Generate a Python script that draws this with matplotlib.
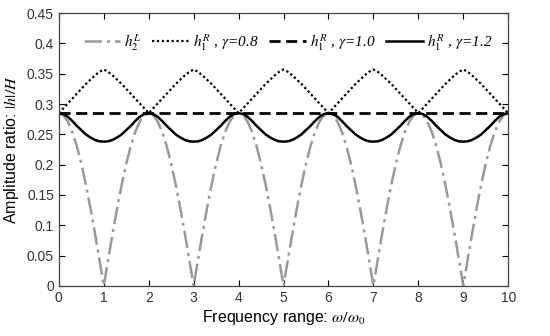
import numpy as np
import matplotlib
matplotlib.use("Agg")
import matplotlib.pyplot as plt

plt.rcParams['font.family'] = ['Liberation Sans', 'DejaVu Sans']
plt.rcParams['mathtext.fontset'] = 'stix'

# frequency samples (omega/omega_0), step 0.1 from 0 to 10
freq = [round(0.1 * i, 1) for i in range(101)]

# h2^L (grey dash-dot)
h2L = [0.285,
       0.2815, 0.2711, 0.2539, 0.2306, 0.2015, 0.1675, 0.1294, 0.0881, 0.0446, 0.0,
       0.0446, 0.0881, 0.1294, 0.1675, 0.2015, 0.2306, 0.2539, 0.2711, 0.2815, 0.285,
       0.2815, 0.2711, 0.2539, 0.2306, 0.2015, 0.1675, 0.1294, 0.0881, 0.0446, 0.0,
       0.0446, 0.0881, 0.1294, 0.1675, 0.2015, 0.2306, 0.2539, 0.2711, 0.2815, 0.285,
       0.2815, 0.2711, 0.2539, 0.2306, 0.2015, 0.1675, 0.1294, 0.0881, 0.0446, 0.0,
       0.0446, 0.0881, 0.1294, 0.1675, 0.2015, 0.2306, 0.2539, 0.2711, 0.2815, 0.285,
       0.2815, 0.2711, 0.2539, 0.2306, 0.2015, 0.1675, 0.1294, 0.0881, 0.0446, 0.0,
       0.0446, 0.0881, 0.1294, 0.1675, 0.2015, 0.2306, 0.2539, 0.2711, 0.2815, 0.285,
       0.2815, 0.2711, 0.2539, 0.2306, 0.2015, 0.1675, 0.1294, 0.0881, 0.0446, 0.0,
       0.0446, 0.0881, 0.1294, 0.1675, 0.2015, 0.2306, 0.2539, 0.2711, 0.2815, 0.285]

# h1^R, gamma = 0.8 (dotted)
h1R_08 = [0.285,
          0.293, 0.301, 0.309, 0.317, 0.325, 0.333, 0.340, 0.347, 0.353, 0.357,
          0.353, 0.347, 0.340, 0.333, 0.325, 0.317, 0.309, 0.301, 0.293, 0.285,
          0.293, 0.301, 0.309, 0.317, 0.325, 0.333, 0.340, 0.347, 0.353, 0.357,
          0.353, 0.347, 0.340, 0.333, 0.325, 0.317, 0.309, 0.301, 0.293, 0.285,
          0.293, 0.301, 0.309, 0.317, 0.325, 0.333, 0.340, 0.347, 0.353, 0.357,
          0.353, 0.347, 0.340, 0.333, 0.325, 0.317, 0.309, 0.301, 0.293, 0.285,
          0.293, 0.301, 0.309, 0.317, 0.325, 0.333, 0.340, 0.347, 0.353, 0.357,
          0.353, 0.347, 0.340, 0.333, 0.325, 0.317, 0.309, 0.301, 0.293, 0.285,
          0.293, 0.301, 0.309, 0.317, 0.325, 0.333, 0.340, 0.347, 0.353, 0.357,
          0.353, 0.347, 0.340, 0.333, 0.325, 0.317, 0.309, 0.301, 0.293, 0.285]

# h1^R, gamma = 1.0 (dashed, constant)
freq_10 = [0.0, 10.0]
h1R_10 = [0.285, 0.285]

# h1^R, gamma = 1.2 (solid)
h1R_12 = [0.285,
          0.2835, 0.279, 0.272, 0.264, 0.257, 0.250, 0.245, 0.241, 0.2385, 0.238,
          0.2385, 0.241, 0.245, 0.250, 0.257, 0.264, 0.272, 0.279, 0.2835, 0.285,
          0.2835, 0.279, 0.272, 0.264, 0.257, 0.250, 0.245, 0.241, 0.2385, 0.238,
          0.2385, 0.241, 0.245, 0.250, 0.257, 0.264, 0.272, 0.279, 0.2835, 0.285,
          0.2835, 0.279, 0.272, 0.264, 0.257, 0.250, 0.245, 0.241, 0.2385, 0.238,
          0.2385, 0.241, 0.245, 0.250, 0.257, 0.264, 0.272, 0.279, 0.2835, 0.285,
          0.2835, 0.279, 0.272, 0.264, 0.257, 0.250, 0.245, 0.241, 0.2385, 0.238,
          0.2385, 0.241, 0.245, 0.250, 0.257, 0.264, 0.272, 0.279, 0.2835, 0.285,
          0.2835, 0.279, 0.272, 0.264, 0.257, 0.250, 0.245, 0.241, 0.2385, 0.238,
          0.2385, 0.241, 0.245, 0.250, 0.257, 0.264, 0.272, 0.279, 0.2835, 0.285]

labels = [r'$h_2^L$',
          r'$h_1^R$ , $\gamma$=0.8',
          r'$h_1^R$ , $\gamma$=1.0',
          r'$h_1^R$ , $\gamma$=1.2']

xticks = [0, 1, 2, 3, 4, 5, 6, 7, 8, 9, 10]
yticks = [0, 0.05, 0.1, 0.15, 0.2, 0.25, 0.3, 0.35, 0.4, 0.45]
ytick_labels = ['0', '0.05', '0.1', '0.15', '0.2', '0.25', '0.3', '0.35', '0.4', '0.45']

fig = plt.figure(figsize=(5.5, 3.36), dpi=100)
ax = fig.add_axes([0.107, 0.149, 0.817, 0.812])

ax.plot(freq, h2L, color='#999999', linestyle=(0, (7, 2, 1.2, 2)), lw=1.8, label=labels[0])
ax.plot(freq, h1R_08, color='black', linestyle=(0, (1, 1.2)), lw=1.6, label=labels[1])
ax.plot(freq_10, h1R_10, color='black', linestyle=(0, (4, 2)), lw=2.0, label=labels[2])
ax.plot(freq, h1R_12, color='black', linestyle='-', lw=1.8, label=labels[3])

ax.set_xlim(0, 10)
ax.set_ylim(0, 0.45)
ax.set_xticks(xticks)
ax.set_yticks(yticks)
ax.set_yticklabels(ytick_labels)
ax.tick_params(direction='in', top=True, right=True, length=4, labelsize=10, colors='black')
for lab in ax.get_xticklabels() + ax.get_yticklabels():
    lab.set_color('#333333')
for sp in ax.spines.values():
    sp.set_color('#444444')
    sp.set_linewidth(0.9)

ax.set_xlabel(r'Frequency range: $\omega/\omega_0$', fontsize=11.5, labelpad=2)
ax.set_ylabel(r'Amplitude ratio: $|h|/H$', fontsize=11.5, labelpad=4)

leg = ax.legend(loc='upper center', bbox_to_anchor=(0.51, 0.965), ncol=4, frameon=False,
                prop={'family': 'Liberation Serif', 'style': 'italic', 'size': 11},
                handlelength=2.4, handletextpad=0.25, columnspacing=0.7, borderaxespad=0.2)

fig.savefig('out.png', dpi=100)
